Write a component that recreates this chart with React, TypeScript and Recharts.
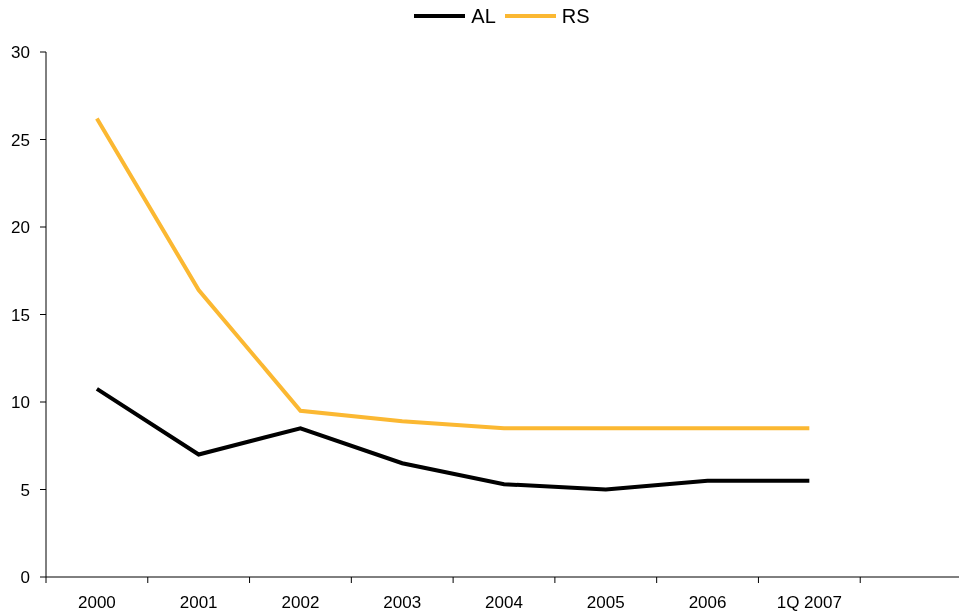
import React from 'react';
import { LineChart, Line, XAxis, YAxis, Legend } from 'recharts';

const categories = ['2000', '2001', '2002', '2003', '2004', '2005', '2006', '1Q 2007'];
const alValues = [10.75, 7.0, 8.5, 6.5, 5.3, 5.0, 5.5, 5.5];
const rsValues = [26.2, 16.4, 9.5, 8.9, 8.5, 8.5, 8.5, 8.5];
const yTicks = [0, 5, 10, 15, 20, 25, 30];
const slotCount = 9;
const xTicks = [0, 1, 2, 3, 4, 5, 6, 7, 8];

const data = categories.map((c, i) => ({ pos: i + 0.5, label: c, AL: alValues[i], RS: rsValues[i] }));

const VIEW_W = 951;
const CHART_W = 955;
const CHART_H = 608;
const LEGEND_H = 24;
const MARGIN = { top: 44 - LEGEND_H, right: 1, bottom: 0, left: 0 };
const Y_W = 38;
const PLOT_W = CHART_W - MARGIN.left - MARGIN.right - Y_W;
const SLOT = PLOT_W / slotCount;

const FONT = '"Liberation Sans", Arial, sans-serif';
const BLACK = '#000000';
const ORANGE = '#FBB832';

const XTick = (props: any) => {
  const { x, y, payload } = props;
  const label = categories[payload.value] ?? '';
  if (!label) return null;
  return (
    <text x={x + SLOT / 2} y={y} dy="0.71em" textAnchor="middle" fill={BLACK} fontSize={17} fontFamily={FONT}>
      {label}
    </text>
  );
};

const legendItems = [
  { name: 'AL', color: BLACK },
  { name: 'RS', color: ORANGE },
];

const LegendContent = () => (
  <div
    style={{
      height: LEGEND_H,
      width: VIEW_W - Y_W - MARGIN.right,
      paddingLeft: Y_W,
      display: 'flex',
      justifyContent: 'center',
      alignItems: 'center',
      fontFamily: FONT,
      fontSize: 20,
      color: BLACK,
    }}
  >
    {legendItems.map((s, i) => (
      <div key={s.name} style={{ display: 'flex', alignItems: 'center', marginLeft: i === 0 ? 0 : 9 }}>
        <div style={{ width: 51, height: 4, background: s.color, marginRight: 6 }} />
        <span style={{ lineHeight: `${LEGEND_H}px` }}>{s.name}</span>
      </div>
    ))}
  </div>
);

export default function App() {
  return (
    <div
      style={{
        position: 'fixed',
        left: 8,
        top: 8,
        width: VIEW_W,
        height: CHART_H,
        overflow: 'visible',
        fontFamily: FONT,
      }}
    >
      <style>{'html, body { overflow: hidden; scrollbar-width: none; } ::-webkit-scrollbar { width: 0; height: 0; display: none; }'}</style>
      <LineChart width={CHART_W} height={CHART_H} data={data} margin={MARGIN}>
        <Legend
          verticalAlign="top"
          align="left"
          height={LEGEND_H}
          wrapperStyle={{ top: -4, left: 0 }}
          content={<LegendContent />}
        />
        <XAxis
          dataKey="pos"
          type="number"
          domain={[0, slotCount]}
          ticks={xTicks}
          interval={0}
          tick={<XTick />}
          tickSize={6}
          tickMargin={13}
          height={39}
          axisLine={{ stroke: BLACK, strokeWidth: 1 }}
          tickLine={{ stroke: BLACK, strokeWidth: 1 }}
        />
        <YAxis
          domain={[0, 30]}
          ticks={yTicks}
          interval={0}
          width={Y_W}
          tickSize={6}
          tickMargin={10}
          tick={{ fill: BLACK, fontSize: 17, fontFamily: FONT }}
          axisLine={{ stroke: BLACK, strokeWidth: 1 }}
          tickLine={{ stroke: BLACK, strokeWidth: 1 }}
        />
        <Line type="linear" dataKey="AL" stroke={BLACK} strokeWidth={4} dot={false} isAnimationActive={false} />
        <Line type="linear" dataKey="RS" stroke={ORANGE} strokeWidth={4} dot={false} isAnimationActive={false} />
      </LineChart>
    </div>
  );
}
